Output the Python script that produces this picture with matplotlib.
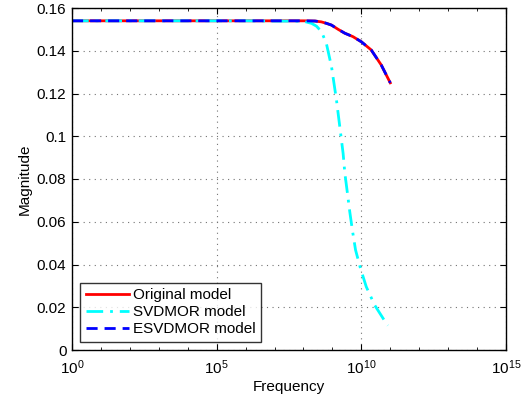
import numpy as np
import matplotlib
matplotlib.use("Agg")
import matplotlib.pyplot as plt
from matplotlib.ticker import FixedLocator, NullFormatter

plt.rcParams['font.family'] = ['Liberation Sans', 'DejaVu Sans']
plt.rcParams['mathtext.fontset'] = 'custom'
plt.rcParams['mathtext.rm'] = 'Liberation Sans'
plt.rcParams['mathtext.it'] = 'Liberation Sans:italic'

# log10 frequency points and magnitudes
orig_logf = [0, 2, 4, 6, 8, 8.4, 8.62, 8.8, 8.97, 9.2, 9.43, 9.71, 10.0, 10.34, 10.69, 10.85, 11.0]
orig_mag = [0.154, 0.154, 0.154, 0.154, 0.154, 0.1539, 0.1535, 0.1528, 0.152, 0.150, 0.1482, 0.1466, 0.1442, 0.1404, 0.1333, 0.129, 0.125]

svd_logf = [0, 2, 4, 6, 8, 8.28, 8.45, 8.62, 8.79, 8.97, 9.14, 9.37, 9.43, 9.52, 9.6, 9.69, 9.8, 9.97, 10.17, 10.46, 10.86, 10.92]
svd_mag = [0.154, 0.154, 0.154, 0.154, 0.1538, 0.1528, 0.1515, 0.149, 0.1435, 0.1325, 0.117, 0.092, 0.0827, 0.0733, 0.0647, 0.0561, 0.0468, 0.0382, 0.0296, 0.021, 0.0125, 0.0115]

esvd_logf = orig_logf
esvd_mag = orig_mag

ytick_vals = [0, 0.02, 0.04, 0.06, 0.08, 0.1, 0.12, 0.14, 0.16]
ytick_labels = ['0', '0.02', '0.04', '0.06', '0.08', '0.1', '0.12', '0.14', '0.16']
xtick_vals = [1e0, 1e5, 1e10, 1e15]
xtick_labels = [r'$10^{0}$', r'$10^{5}$', r'$10^{10}$', r'$10^{15}$']

FS = 11
fig = plt.figure(figsize=(5.28, 4.0), dpi=100)
ax = fig.add_axes([72/528, 50/400, 434/528, 342/400])

ax.plot(10**np.array(orig_logf), orig_mag, color='red', lw=2, ls='-', label='Original model')
ax.plot(10**np.array(svd_logf), svd_mag, color='cyan', lw=2, ls=(0, (6, 2.5, 1, 2.5)), label='SVDMOR model')
ax.plot(10**np.array(esvd_logf), esvd_mag, color='blue', lw=2, ls=(0, (4, 2.5)), label='ESVDMOR model')

ax.set_xscale('log')
ax.set_xlim(1e0, 1e15)
ax.set_ylim(0, 0.16)
ax.xaxis.set_major_locator(FixedLocator(xtick_vals))
ax.set_xticklabels(xtick_labels)
ax.xaxis.set_minor_locator(FixedLocator([10.0**k for k in range(16)]))
ax.xaxis.set_minor_formatter(NullFormatter())
ax.set_yticks(ytick_vals)
ax.set_yticklabels(ytick_labels)
ax.tick_params(which='both', direction='in', top=True, right=True, labelsize=FS)
ax.tick_params(which='major', length=4)
ax.tick_params(which='minor', length=2)
ax.tick_params(axis='x', which='major', pad=6)
ax.tick_params(axis='y', which='major', pad=4)
ax.grid(True, which='major', ls=(0, (1, 4)), color='0.45', lw=0.8)
for s in ax.spines.values():
    s.set_linewidth(1.0)

ax.set_xlabel('Frequency', fontsize=FS, labelpad=2)
ax.set_ylabel('Magnitude', fontsize=FS, labelpad=4)

leg = ax.legend(loc='lower left', fontsize=FS, frameon=True, fancybox=False,
                edgecolor='black', handlelength=2.8, borderpad=0.35,
                labelspacing=0.2, handletextpad=0.3, borderaxespad=0.55)
leg.get_frame().set_linewidth(1.0)

fig.savefig('out.png', dpi=100)
